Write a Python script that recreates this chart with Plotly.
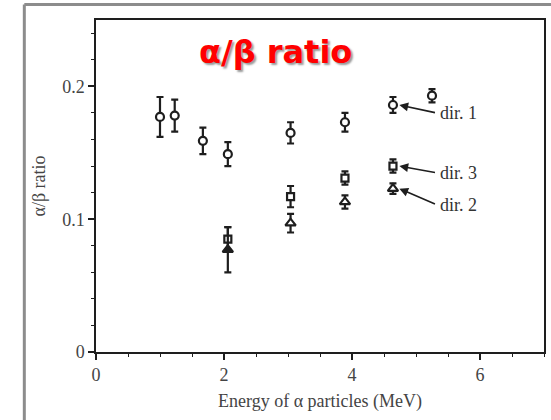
import plotly.graph_objects as go

# dir. 1 (circles)
e1 = [1.00, 1.23, 1.67, 2.06, 3.04, 3.89, 4.64, 5.25]
r1 = [0.177, 0.178, 0.159, 0.149, 0.165, 0.173, 0.186, 0.193]
s1 = [0.015, 0.012, 0.010, 0.009, 0.008, 0.007, 0.006, 0.005]
# dir. 3 (squares)
e3 = [2.06, 3.04, 3.89, 4.64]
r3 = [0.085, 0.117, 0.131, 0.140]
s3 = [0.009, 0.008, 0.005, 0.005]
# dir. 2 (triangles)
e2 = [2.06, 3.04, 3.89, 4.64]
r2 = [0.077, 0.097, 0.113, 0.123]
s2 = [0.017, 0.007, 0.005, 0.004]

labels = ["dir. 1", "dir. 3", "dir. 2"]
xticks = [0, 2, 4, 6]
yticks = [0, 0.1, 0.2]
ytext = ["0", "0.1", "0.2"]

INK = "#1e1e1e"
SERIF = "Liberation Serif, Times New Roman, serif"

fig = go.Figure()

def add(e, r, s, sym, size):
    fig.add_trace(go.Scatter(
        x=e, y=r, mode="markers",
        error_y=dict(type="data", array=s, color=INK, thickness=2.2, width=3.5),
        marker=dict(symbol=sym, size=size, color="white",
                    line=dict(color=INK, width=2.2)),
        showlegend=False))

add(e1, r1, s1, "circle", 8)
add(e3, r3, s3, "square", 7)
fig.add_trace(go.Scatter(
    x=e2, y=r2, mode="markers",
    error_y=dict(type="data", array=s2, color=INK, thickness=2.2, width=3.5),
    marker=dict(symbol="triangle-up", size=9,
                color=[INK] + ["white"] * (len(e2) - 1),
                line=dict(color=INK, width=2.2)),
    showlegend=False))

# arrow annotations: label text placed right of the last points
tips = [(e1[6], r1[6]), (e3[3], r3[3]), (e2[3], r2[3])]
text_y = [r1[6] - 0.006, r3[3] - 0.005, r2[3] - 0.012]
for lab, (tx, ty), ly in zip(labels, tips, text_y):
    fig.add_annotation(
        x=tx + 0.1, y=ty, ax=tx + 0.68, ay=ly, xref="x", yref="y",
        axref="x", ayref="y", text="", showarrow=True,
        arrowhead=2, arrowsize=1.1, arrowwidth=1.6, arrowcolor=INK)
    fig.add_annotation(
        x=tx + 0.71, y=ly, xref="x", yref="y", text=lab, showarrow=False,
        xanchor="left", yanchor="middle",
        font=dict(family=SERIF, size=18, color="#333333"))

# title
fig.add_annotation(
    x=0.40, y=0.905, xref="paper", yref="paper", showarrow=False,
    text="<b>α/β ratio</b>", xanchor="center", yanchor="middle",
    font=dict(family="DejaVu Sans, Liberation Sans, sans-serif", size=32,
              color="#ff0000", shadow="2px 2px 2px #9a9a9a"))

# outer slide frame (gray)
fig.add_shape(type="line", xref="paper", yref="paper",
              x0=-0.16, x1=1.02, y0=1.047, y1=1.047,
              line=dict(color="#8c8c8c", width=3))
fig.add_shape(type="line", xref="paper", yref="paper",
              x0=-0.16, x1=-0.16, y0=-0.25, y1=1.047,
              line=dict(color="#8c8c8c", width=3))

axis_common = dict(
    showline=True, linecolor=INK, linewidth=1.5, mirror=True,
    showgrid=False, zeroline=False, ticks="outside", ticklen=6,
    tickwidth=1.5, tickcolor=INK,
    tickfont=dict(family=SERIF, size=18, color="#444444"),
)

fig.update_xaxes(
    range=[0, 7], tickvals=xticks, **axis_common,
    minor=dict(dtick=0.5, ticks="outside", ticklen=3, tickwidth=1.3, tickcolor=INK),
    title=dict(text="Energy of α particles (MeV)",
               font=dict(family=SERIF, size=18, color="#444444"), standoff=10))
fig.update_yaxes(
    range=[0, 0.25], tickvals=yticks, ticktext=ytext, **axis_common,
    minor=dict(dtick=0.02, ticks="outside", ticklen=3, tickwidth=1.3, tickcolor=INK),
    title=dict(text="α/β ratio",
               font=dict(family=SERIF, size=18, color="#444444"), standoff=12))

fig.update_layout(
    width=551, height=420,
    margin=dict(l=96, r=5, t=20, b=68),
    paper_bgcolor="white", plot_bgcolor="white",
)

fig.write_html("out.html")
